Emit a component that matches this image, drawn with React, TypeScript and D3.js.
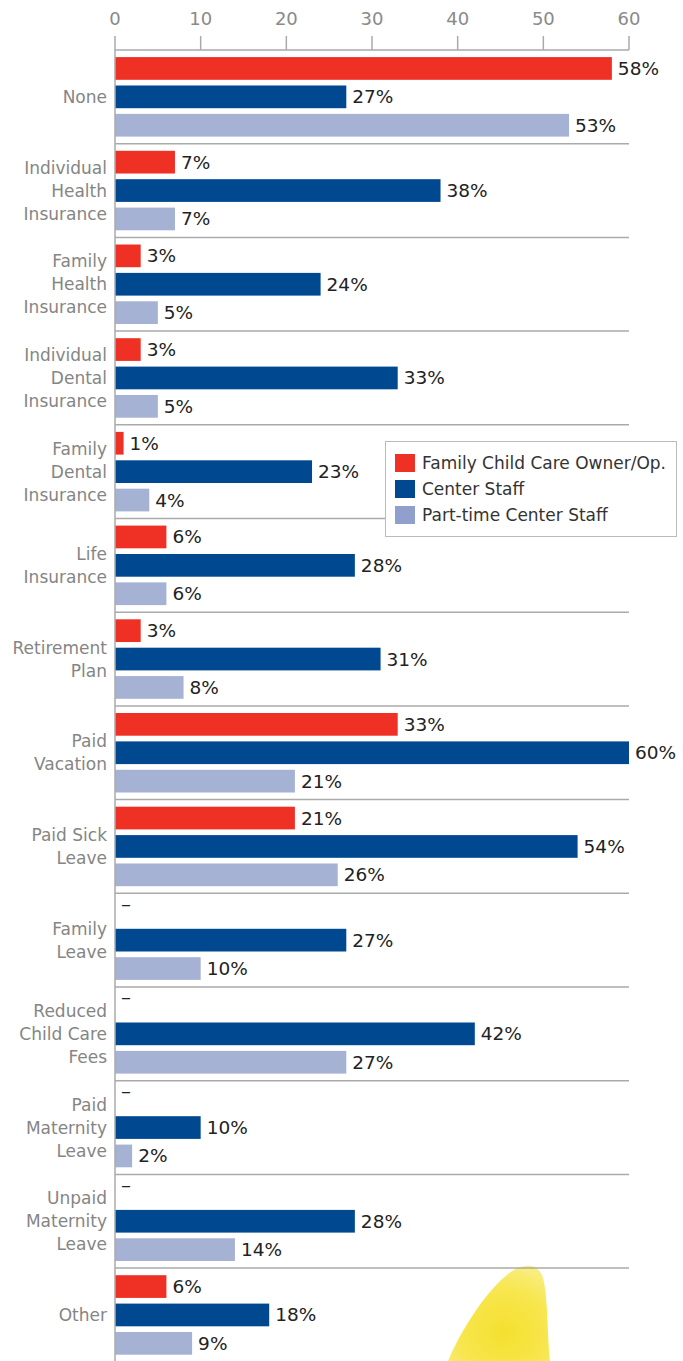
import React from "react";
import * as d3 from "d3";

const categories: string[][] = [
  ["None"],
  ["Individual", "Health", "Insurance"],
  ["Family", "Health", "Insurance"],
  ["Individual", "Dental", "Insurance"],
  ["Family", "Dental", "Insurance"],
  ["Life", "Insurance"],
  ["Retirement", "Plan"],
  ["Paid", "Vacation"],
  ["Paid Sick", "Leave"],
  ["Family", "Leave"],
  ["Reduced", "Child Care", "Fees"],
  ["Paid", "Maternity", "Leave"],
  ["Unpaid", "Maternity", "Leave"],
  ["Other"],
];
const familyOwner: (number | null)[] = [58, 7, 3, 3, 1, 6, 3, 33, 21, null, null, null, null, 6];
const centerStaff: number[] = [27, 38, 24, 33, 23, 28, 31, 60, 54, 27, 42, 10, 28, 18];
const partTime: number[] = [53, 7, 5, 5, 4, 6, 8, 21, 26, 10, 27, 2, 14, 9];
const seriesNames = ["Family Child Care Owner/Op.", "Center Staff", "Part-time Center Staff"];
const seriesColors = ["#EE3124", "#004990", "#A6B2D4"];
const legendColors = ["#EE3124", "#004990", "#909FCB"];
const ticks = [0, 10, 20, 30, 40, 50, 60];

const W = 683;
const H = 1361;
const FONT = "'DejaVu Sans', sans-serif";

export default function App() {
  if (typeof document !== "undefined") document.body.style.margin = "0";
  const x = d3.scaleLinear().domain([0, 60]).range([115, 629]);
  const y = d3
    .scaleBand<number>()
    .domain(d3.range(categories.length))
    .range([50, 50 + 93.7 * categories.length]);
  const inner = d3.scaleBand<number>().domain([0, 1, 2]).range([0, 93.7]).paddingInner(0.2).paddingOuter(0.25);
  const series = [familyOwner, centerStaff, partTime];

  return (
    <svg width={W} height={H} style={{ display: "block" }} fontFamily={FONT}>
      <defs>
        <radialGradient id="yel" cx="0.55" cy="0.7" r="0.75">
          <stop offset="0" stopColor="#F5E02E" />
          <stop offset="0.6" stopColor="#F7E64F" />
          <stop offset="1" stopColor="#FAEE86" />
        </radialGradient>
      </defs>
      <rect width={W} height={H} fill="#fff" />
      {/* decorative yellow petal */}
      <path
        d="M448,1361 C464,1324 488,1290 508,1274 C522,1263 538,1262 543,1278 C548,1296 547,1332 550,1361 Z"
        fill="url(#yel)"
      />
      {/* top axis */}
      <line x1={x(0)} x2={x(60)} y1={50} y2={50} stroke="#aaa" strokeWidth={1.5} />
      {ticks.map((t) => (
        <g key={t}>
          <line x1={x(t)} x2={x(t)} y1={36} y2={50} stroke="#aaa" strokeWidth={1.5} />
          <text x={x(t)} y={25} textAnchor="middle" fontSize={18} fill="#8a8a8a">
            {t}
          </text>
        </g>
      ))}
      {/* separators */}
      {categories.slice(0, -1).map((_, i) => (
        <line
          key={i}
          x1={x(0)}
          x2={x(60)}
          y1={(y(i) as number) + y.bandwidth()}
          y2={(y(i) as number) + y.bandwidth()}
          stroke="#aaa"
          strokeWidth={1.5}
        />
      ))}
      {/* bars */}
      {categories.map((lines, i) => {
        const gy = y(i) as number;
        const mid = gy + y.bandwidth() / 2;
        return (
          <g key={i}>
            {series.map((s, k) => {
              const v = s[i];
              const by = gy + (inner(k) as number);
              const bh = inner.bandwidth();
              if (v === null) {
                return (
                  <text key={k} x={x(0) + 6} y={by + bh / 2 - 1} fontSize={20} fill="#222">
                    –
                  </text>
                );
              }
              return (
                <g key={k}>
                  <rect x={x(0)} y={by} width={x(v) - x(0)} height={bh} fill={seriesColors[k]} />
                  <text x={x(v) + 6} y={by + bh / 2 + 6.5} fontSize={18.5} fill="#222">
                    {v}%
                  </text>
                </g>
              );
            })}
            {lines.map((ln, j) => (
              <text
                key={j}
                x={107}
                y={mid + (j - (lines.length - 1) / 2) * 23 + 6}
                textAnchor="end"
                fontSize={17}
                fill="#858585"
              >
                {ln}
              </text>
            ))}
          </g>
        );
      })}
      {/* left axis */}
      <line x1={x(0)} x2={x(0)} y1={50} y2={H} stroke="#aaa" strokeWidth={1.5} />
      {/* legend */}
      <rect x={385.5} y={441.5} width={291} height={95} fill="#fff" stroke="#bbb" strokeWidth={1} />
      {seriesNames.map((n, k) => (
        <g key={n}>
          <rect x={395} y={454 + k * 26} width={20} height={18} fill={legendColors[k]} />
          <text x={422} y={469 + k * 26} fontSize={17} fill="#333">
            {n}
          </text>
        </g>
      ))}
    </svg>
  );
}
